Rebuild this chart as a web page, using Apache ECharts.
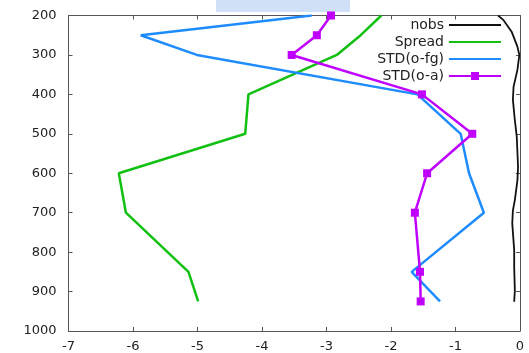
<!DOCTYPE html>
<html>
<head>
<meta charset="utf-8">
<script src="https://cdn.jsdelivr.net/npm/echarts@6/dist/echarts.min.js"></script>
<style>
  html, body { margin: 0; padding: 0; background: #fff; }
  #chart { width: 529px; height: 353px; }
</style>
</head>
<body>
<div id="chart"></div>
<script>
// Pressure levels (hPa) and per-level statistics
var levels = [200, 250, 300, 400, 500, 600, 700, 850, 925];
var spread = [-2.15, -2.47, -2.84, -4.21, -4.26, -6.22, -6.11, -5.14, -4.99];
var stdFg  = [-3.23, -5.88, -5.01, -1.59, -0.92, -0.79, -0.56, -1.68, -1.24];
var stdA   = [-2.93, -3.15, -3.54, -1.52, -0.74, -1.44, -1.63, -1.55, -1.54];

// Observation count profile (scaled onto the same axis)
var nobsLevels = [200, 211, 241, 279, 300, 338, 381, 414, 465, 508, 584, 618, 668, 694, 727, 795, 838, 897, 926];
var nobsValues = [-0.34, -0.26, -0.13, -0.04, -0.01, -0.04, -0.10, -0.11, -0.08, -0.05, -0.03, -0.04, -0.08, -0.11, -0.12, -0.09, -0.09, -0.08, -0.09];

var xTicks = { min: -7, max: 0, interval: 1 };
var yTicks = { min: 200, max: 1000, interval: 100 };

function pairs(xs, ys) {
  return ys.map(function (y, i) { return [xs[i], y]; });
}

var FONT = 'DejaVu Sans';
var AXIS_COLOR = '#555';
var TEXT_COLOR = '#222';

function frameAxis(base, extra) {
  return Object.assign({
    type: 'value',
    axisLine: { show: true, onZero: false, lineStyle: { color: AXIS_COLOR, width: 1 } },
    axisTick: { show: true, inside: true, length: 4, lineStyle: { color: AXIS_COLOR } },
    splitLine: { show: false }
  }, base, extra);
}

// legend entries for plain lines carry no marker
var noMarker = { opacity: 0 };

var chart = echarts.init(document.getElementById('chart'), null, { renderer: 'canvas' });

chart.setOption({
  animation: false,
  backgroundColor: '#fff',
  grid: { left: 68.5, right: 9, top: 15.5, bottom: 22, containLabel: false },
  graphic: [{
    type: 'rect',
    shape: { x: 216, y: 0, width: 134, height: 12 },
    style: { fill: '#d0e0f6' },
    silent: true
  }],
  legend: {
    orient: 'vertical',
    align: 'right',
    right: 27,
    top: 17,
    padding: 0,
    itemGap: 1,
    itemWidth: 52,
    itemHeight: 10,
    textStyle: { fontFamily: FONT, fontSize: 14, color: TEXT_COLOR, lineHeight: 16 },
    data: [
      { name: 'nobs', itemStyle: noMarker },
      { name: 'Spread', itemStyle: noMarker },
      { name: 'STD(o-fg)', itemStyle: noMarker },
      { name: 'STD(o-a)' }
    ]
  },
  xAxis: [
    frameAxis(xTicks, {
      position: 'bottom',
      axisLabel: { fontFamily: FONT, fontSize: 13, color: TEXT_COLOR, margin: 9 }
    }),
    frameAxis(xTicks, { position: 'top', axisLabel: { show: false } })
  ],
  yAxis: [
    frameAxis(yTicks, {
      inverse: true,
      position: 'left',
      axisLabel: {
        fontFamily: FONT, fontSize: 13, color: TEXT_COLOR, margin: 12,
        formatter: function (v) { return String(v); }
      }
    }),
    frameAxis(yTicks, { inverse: true, position: 'right', axisLabel: { show: false } })
  ],
  series: [
    {
      name: 'nobs', type: 'line', symbol: 'none',
      data: pairs(nobsValues, nobsLevels),
      lineStyle: { color: '#111', width: 1.8 }, itemStyle: { color: '#111' }
    },
    {
      name: 'Spread', type: 'line', symbol: 'none',
      data: pairs(spread, levels),
      lineStyle: { color: '#11c011', width: 2.5 }, itemStyle: { color: '#11c011' }
    },
    {
      name: 'STD(o-fg)', type: 'line', symbol: 'none',
      data: pairs(stdFg, levels),
      lineStyle: { color: '#1e8cff', width: 2.5 }, itemStyle: { color: '#1e8cff' }
    },
    {
      name: 'STD(o-a)', type: 'line', symbol: 'rect', symbolSize: 8,
      data: pairs(stdA, levels),
      lineStyle: { color: '#c000ff', width: 2.5 }, itemStyle: { color: '#c000ff' }
    }
  ]
});
</script>
</body>
</html>
